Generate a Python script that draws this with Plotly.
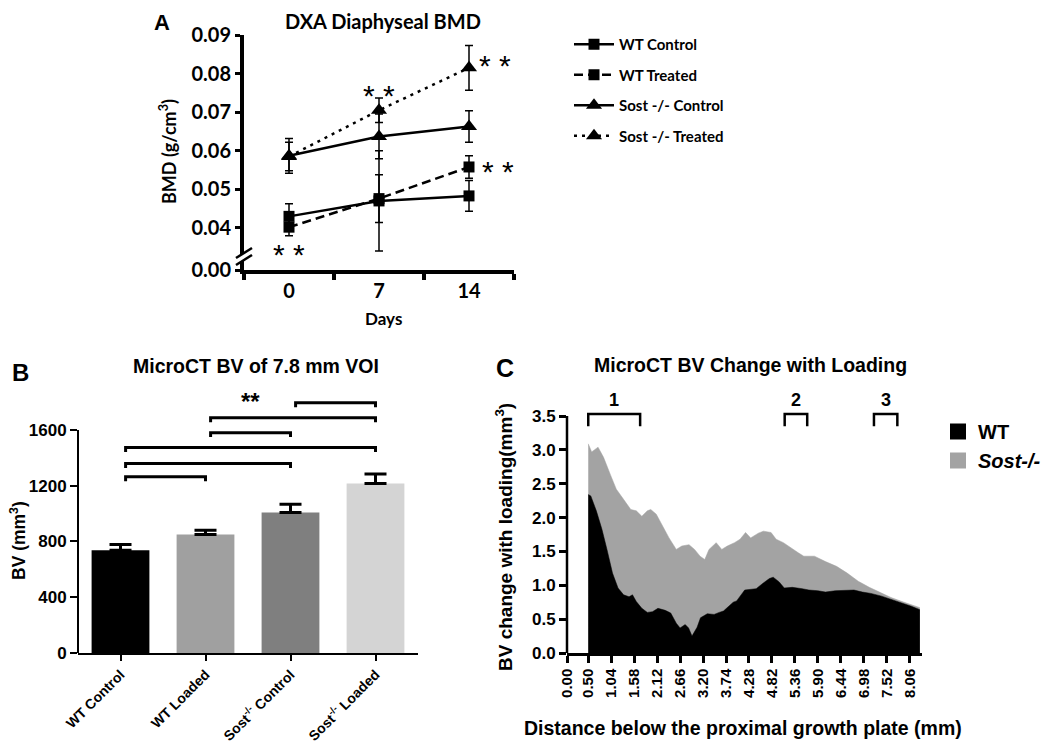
import plotly.graph_objects as go

# page = 1050 x 751 window; the browser body keeps an 8 px margin, so the
# figure is sized to fit exactly inside it and positions are given in window pixels.
WIN_W, WIN_H = 1050, 751
BODY_MARGIN = 8
FW, FH = WIN_W - 2 * BODY_MARGIN, WIN_H - 2 * BODY_MARGIN

# ---------------- Panel A: DXA diaphyseal BMD ----------------
DAYS = ["0", "7", "14"]
A_NAMES = ["WT Control", "WT Treated", "Sost -/- Control", "Sost -/- Treated"]
WT_CONTROL = [0.0430, 0.0470, 0.0483]
WT_CONTROL_ERR = [0.0033, 0.0130, 0.0040]
WT_TREATED = [0.0402, 0.0476, 0.0558]
WT_TREATED_ERR = [0.0022, 0.0062, 0.0029]
SOST_CONTROL = [0.0587, 0.0637, 0.0663]
SOST_CONTROL_ERR = [0.0045, 0.0058, 0.0041]
SOST_TREATED = [0.0585, 0.0705, 0.0815]
SOST_TREATED_ERR = [0.0037, 0.0032, 0.0058]
A_YTICKS = [0.04, 0.05, 0.06, 0.07, 0.08, 0.09]
A_BREAK = 0.0291          # axis position that carries the "0.00" label (broken axis)
A_BREAK_LABEL = "0.00"
A_SIG_X = [0, 1, 2.29, 2.32]
A_SIG_Y = [0.0352, 0.0763, 0.0841, 0.0568]

# ---------------- Panel B: MicroCT BV of 7.8 mm VOI ----------------
B_GROUPS = ["WT Control", "WT Loaded", "Sost<sup>-/-</sup> Control", "Sost<sup>-/-</sup> Loaded"]
B_BV = [738, 850, 1008, 1217]
B_SEM = [40, 31, 60, 67]
B_YTICKS = [0, 400, 800, 1200, 1600]
B_PAIRS = [(0, 1), (0, 2), (0, 3), (1, 2), (1, 3), (2, 3)]
B_PAIR_LEVELS = [1265, 1360, 1475, 1581, 1688, 1796]
B_SIG = (1.53, 1851, "**")

# ---------------- Panel C: MicroCT BV change with loading ----------------
SOST_X = [0.50, 0.58, 0.73, 0.86, 1.03, 1.16, 1.33, 1.50, 1.63, 1.76, 1.89, 1.97, 2.10,
          2.23, 2.40, 2.57, 2.70, 2.87, 3.00, 3.13, 3.24, 3.34, 3.51, 3.64, 3.77, 3.94,
          4.07, 4.20, 4.32, 4.50, 4.62, 4.80, 4.92, 5.09, 5.27, 5.44, 5.57, 5.82, 6.08,
          6.34, 6.59, 6.85, 7.11, 7.36, 7.62, 7.88, 8.13, 8.30]
SOST_Y = [3.09, 2.97, 3.04, 2.89, 2.62, 2.42, 2.27, 2.12, 2.10, 2.02, 2.10, 2.12, 2.05,
          1.90, 1.70, 1.53, 1.58, 1.60, 1.53, 1.43, 1.38, 1.53, 1.63, 1.53, 1.58, 1.63,
          1.68, 1.78, 1.70, 1.77, 1.80, 1.78, 1.68, 1.63, 1.55, 1.48, 1.43, 1.43, 1.35,
          1.28, 1.18, 1.06, 0.97, 0.90, 0.82, 0.76, 0.70, 0.67]
WT_X = [0.50, 0.56, 0.69, 0.82, 0.94, 1.07, 1.20, 1.33, 1.46, 1.54, 1.63, 1.76, 1.89,
        2.01, 2.14, 2.31, 2.44, 2.57, 2.66, 2.78, 2.86, 2.94, 3.06, 3.14, 3.30, 3.46,
        3.58, 3.68, 3.91, 3.99, 4.18, 4.45, 4.61, 4.76, 4.85, 4.99, 5.11, 5.30, 5.53,
        5.69, 5.90, 6.08, 6.31, 6.55, 6.75, 6.95, 7.15, 7.40, 7.65, 7.90, 8.10, 8.30]
WT_Y = [2.34, 2.32, 2.10, 1.83, 1.53, 1.18, 0.96, 0.86, 0.83, 0.86, 0.76, 0.66, 0.60,
        0.61, 0.66, 0.63, 0.59, 0.44, 0.37, 0.42, 0.37, 0.25, 0.38, 0.52, 0.58, 0.57,
        0.60, 0.62, 0.75, 0.77, 0.93, 0.95, 1.03, 1.10, 1.12, 1.05, 0.96, 0.97, 0.95,
        0.93, 0.92, 0.90, 0.92, 0.93, 0.93, 0.90, 0.88, 0.84, 0.79, 0.74, 0.69, 0.64]
C_XTICKS = [0.00, 0.50, 1.04, 1.58, 2.12, 2.66, 3.20, 3.74, 4.28, 4.82, 5.36, 5.90,
            6.44, 6.98, 7.52, 8.06]
C_YTICKS = [0.0, 0.5, 1.0, 1.5, 2.0, 2.5, 3.0, 3.5]
C_REGION_LABELS = ["1", "2", "3"]
C_REGION_START = [0.50, 5.12, 7.22]
C_REGION_END = [1.72, 5.65, 7.77]
C_REGION_LEVEL = 3.53

# ---------------- styling ----------------
FA = "Lato, Carlito, sans-serif"
FB = "Liberation Sans, Arial, sans-serif"
BLACK = "#000000"
B_COLORS = ["#000000", "#a0a0a0", "#7f7f7f", "#d4d4d4"]
C_GRAY = "#a3a3a3"


def PX(x):
    return (x - BODY_MARGIN) / FW


def PY(y):
    return 1 - (y - BODY_MARGIN) / FH


fig = go.Figure()

# ----- Panel A traces -----
a_vals = [WT_CONTROL, WT_TREATED, SOST_CONTROL, SOST_TREATED]
a_errs = [WT_CONTROL_ERR, WT_TREATED_ERR, SOST_CONTROL_ERR, SOST_TREATED_ERR]
a_dash = ["solid", "9px,5px", "solid", "3px,5px"]
a_sym = ["square", "square", "triangle-up", "triangle-up"]
a_size = [11, 11, 14, 14]
for name, ys, es, d, s, sz in zip(A_NAMES, a_vals, a_errs, a_dash, a_sym, a_size):
    fig.add_trace(go.Scatter(
        x=DAYS, y=ys, name=name, legendgroup=name, legend="legend",
        mode="lines+markers",
        line=dict(color=BLACK, width=2.5, dash=d),
        marker=dict(symbol=s, size=sz, color=BLACK),
        error_y=dict(type="data", array=es, color=BLACK, thickness=1.5, width=4),
        xaxis="x", yaxis="y"))

# ----- Panel B traces -----
b_pos = list(range(len(B_GROUPS)))
fig.add_trace(go.Bar(
    x=b_pos, y=B_BV, width=0.68, marker=dict(color=B_COLORS, line=dict(width=0)),
    error_y=dict(type="data", symmetric=False, array=B_SEM, arrayminus=[0] * len(B_SEM),
                 color=BLACK, thickness=3, width=11),
    showlegend=False, xaxis="x2", yaxis="y2"))

# ----- Panel C traces -----
fig.add_trace(go.Scatter(
    x=SOST_X, y=SOST_Y, fill="tozeroy", mode="lines", fillcolor=C_GRAY,
    line=dict(color=C_GRAY, width=0.5), showlegend=False, xaxis="x3", yaxis="y3"))
fig.add_trace(go.Scatter(
    x=WT_X, y=WT_Y, fill="tozeroy", mode="lines", fillcolor=BLACK,
    line=dict(color=BLACK, width=0.5), showlegend=False, xaxis="x3", yaxis="y3"))
for nm, col, grp in [("WT", BLACK, "wt"), ("<i>Sost-/-</i>", C_GRAY, "sost")]:
    fig.add_trace(go.Scatter(
        x=[None], y=[None], mode="markers", name=nm, legend="legend2", legendgroup=grp,
        marker=dict(symbol="square", size=16, color=col), xaxis="x3", yaxis="y3"))

# ----- shapes -----
shapes = []
# broken y-axis marks in panel A
brk = [(236, 258), (252, 248), (252, 255), (236, 265)]
shapes.append(dict(type="path", xref="paper", yref="paper", layer="above",
                   path="M" + " L".join(f"{PX(x)},{PY(y)}" for x, y in brk) + " Z",
                   fillcolor="white", line=dict(width=0)))
for (x0, y0), (x1, y1) in [((236, 258), (252, 248)), ((236, 265), (252, 255))]:
    shapes.append(dict(type="line", xref="paper", yref="paper", layer="above",
                       x0=PX(x0), y0=PY(y0), x1=PX(x1), y1=PY(y1),
                       line=dict(color=BLACK, width=2.5)))

# panel B: y axis line up to last tick, significance brackets
shapes.append(dict(type="line", xref="x2 domain", x0=0, x1=0, yref="y2",
                   y0=B_YTICKS[0], y1=B_YTICKS[-1], line=dict(color=BLACK, width=2)))
B_LEG = 32
for (i, j), lvl in zip(B_PAIRS, B_PAIR_LEVELS):
    x0, x1 = i + 0.06, j
    shapes.append(dict(type="path", xref="x2", yref="y2",
                       path=f"M{x0},{lvl - B_LEG} L{x0},{lvl} L{x1},{lvl} L{x1},{lvl - B_LEG}",
                       line=dict(color=BLACK, width=3)))

# panel C: y axis line up to last tick, region brackets
shapes.append(dict(type="line", xref="x3 domain", x0=0, x1=0, yref="y3",
                   y0=C_YTICKS[0], y1=C_YTICKS[-1], line=dict(color=BLACK, width=2.5)))
C_LEG = 0.18
for x0, x1 in zip(C_REGION_START, C_REGION_END):
    lvl = C_REGION_LEVEL
    shapes.append(dict(type="path", xref="x3", yref="y3",
                       path=f"M{x0},{lvl - C_LEG} L{x0},{lvl} L{x1},{lvl} L{x1},{lvl - C_LEG}",
                       line=dict(color=BLACK, width=2.5)))

# ----- annotations -----
ann = []


def text(x, y, s, size, family, angle=0, weight="bold"):
    ann.append(dict(x=PX(x), y=PY(y), xref="paper", yref="paper", text=s, showarrow=False,
                    textangle=angle, xanchor="center", yanchor="middle",
                    font=dict(family=family, size=size, color=BLACK, weight=weight)))


text(162, 22, "A", 22, FB)
text(383, 21, "DXA Diaphyseal BMD", 20, FA)
text(168, 152, "BMD (g/cm<sup>3</sup>)", 18, FA, angle=-90)
text(383, 318, "Days", 17, FA)

text(20, 372, "B", 24, FB)
text(256, 366, "MicroCT BV of 7.8 mm VOI", 19.5, FB)
text(18, 541, "BV (mm<sup>3</sup>)", 17.5, FB, angle=-90)

text(505, 368, "C", 25, FB)
text(750, 365, "MicroCT BV Change with Loading", 19.5, FB)
text(504, 537, "BV change with loading(mm<sup>3</sup>)", 19, FB, angle=-90)
text(743, 728, "Distance below the proximal growth plate (mm)", 19.5, FB)

for x, y in zip(A_SIG_X, A_SIG_Y):
    ann.append(dict(x=x, y=y, xref="x", yref="y", text="* *", showarrow=False,
                    yshift=-8, font=dict(family=FB, size=30, color=BLACK)))
ann.append(dict(x=B_SIG[0], y=B_SIG[1], xref="x2", yref="y2", text=B_SIG[2],
                showarrow=False, yshift=-6, font=dict(family=FB, size=24, color=BLACK, weight="bold")))
for lab, x0, x1 in zip(C_REGION_LABELS, C_REGION_START, C_REGION_END):
    ann.append(dict(x=(x0 + x1) / 2, y=C_REGION_LEVEL, xref="x3", yref="y3", text=lab,
                    showarrow=False, yanchor="bottom", yshift=2,
                    font=dict(family=FB, size=18, color=BLACK, weight="bold")))

# ----- axes geometry (window pixels) -----
A_LEFT, A_RIGHT, A_TOP_PX, A_BOT_PX = 244, 514, 35, 270
B_LEFT, B_RIGHT = 78, 418
B_ZERO_PX, B_PX_PER = 653, 223 / 1600
B_YMAX = 1900
C_LEFT, C_RIGHT = 567, 922
C_ZERO_PX, C_PX_PER = 653, 67.7
C_YMAX = 3.85

fig.update_layout(
    width=FW, height=FH, autosize=False,
    margin=dict(l=0, r=0, t=0, b=0, autoexpand=False),
    paper_bgcolor="white", plot_bgcolor="white",
    shapes=shapes, annotations=ann,
    xaxis=dict(domain=[PX(A_LEFT), PX(A_RIGHT)], type="category", range=[-0.5, 2.5],
               tickson="boundaries", ticks="outside", ticklen=6, tickwidth=4,
               tickcolor=BLACK, showline=True, linewidth=4, linecolor=BLACK,
               showgrid=False, zeroline=False, anchor="y",
               tickfont=dict(family=FA, size=20, color=BLACK, weight="bold")),
    yaxis=dict(domain=[PY(A_BOT_PX), PY(A_TOP_PX)], range=[A_BREAK, A_YTICKS[-1]],
               tickvals=[A_BREAK] + A_YTICKS,
               ticktext=[A_BREAK_LABEL] + [f"{v:.2f}" for v in A_YTICKS],
               ticks="outside", ticklen=5, tickwidth=3, tickcolor=BLACK,
               showline=True, linewidth=4, linecolor=BLACK, showgrid=False,
               zeroline=False, anchor="x",
               tickfont=dict(family=FA, size=20, color=BLACK, weight="bold")),
    xaxis2=dict(domain=[PX(B_LEFT), PX(B_RIGHT)], range=[-0.5, len(B_GROUPS) - 0.5],
                tickvals=b_pos, ticktext=B_GROUPS, tickangle=-45,
                ticks="outside", ticklen=6, tickwidth=2, tickcolor=BLACK,
                showline=True, linewidth=2, linecolor=BLACK, showgrid=False,
                zeroline=False, anchor="y2",
                tickfont=dict(family=FB, size=14, color=BLACK, weight="bold")),
    yaxis2=dict(domain=[PY(B_ZERO_PX), PY(B_ZERO_PX - B_YMAX * B_PX_PER)],
                range=[0, B_YMAX], tickvals=B_YTICKS,
                ticks="outside", ticklen=7, tickwidth=2, tickcolor=BLACK,
                showline=False, showgrid=False, zeroline=False, anchor="x2",
                tickfont=dict(family=FB, size=17, color=BLACK, weight="bold")),
    xaxis3=dict(domain=[PX(C_LEFT), PX(C_RIGHT)], range=[0, 8.35],
                tickvals=C_XTICKS, ticktext=[f"{v:.2f}" for v in C_XTICKS], tickangle=-90,
                ticks="outside", ticklen=7, tickwidth=2.5, tickcolor=BLACK,
                showline=True, linewidth=2.5, linecolor=BLACK, showgrid=False,
                zeroline=False, anchor="y3",
                tickfont=dict(family=FB, size=15, color=BLACK, weight="bold")),
    yaxis3=dict(domain=[PY(C_ZERO_PX), PY(C_ZERO_PX - C_YMAX * C_PX_PER)],
                range=[0, C_YMAX], tickvals=C_YTICKS, tickformat=".1f",
                ticks="outside", ticklen=7, tickwidth=2.5, tickcolor=BLACK,
                showline=False, showgrid=False, zeroline=False, anchor="x3",
                tickfont=dict(family=FB, size=17, color=BLACK, weight="bold")),
    legend=dict(x=PX(569), y=PY(28), xanchor="left", yanchor="top",
                bgcolor="rgba(0,0,0,0)", tracegroupgap=8, itemwidth=40,
                font=dict(family=FA, size=15, color=BLACK, weight="bold")),
    legend2=dict(x=PX(938), y=PY(412), xanchor="left", yanchor="top",
                 bgcolor="rgba(0,0,0,0)", tracegroupgap=0,
                 font=dict(family=FB, size=20, color=BLACK, weight="bold")),
)

fig.write_html("out.html")
